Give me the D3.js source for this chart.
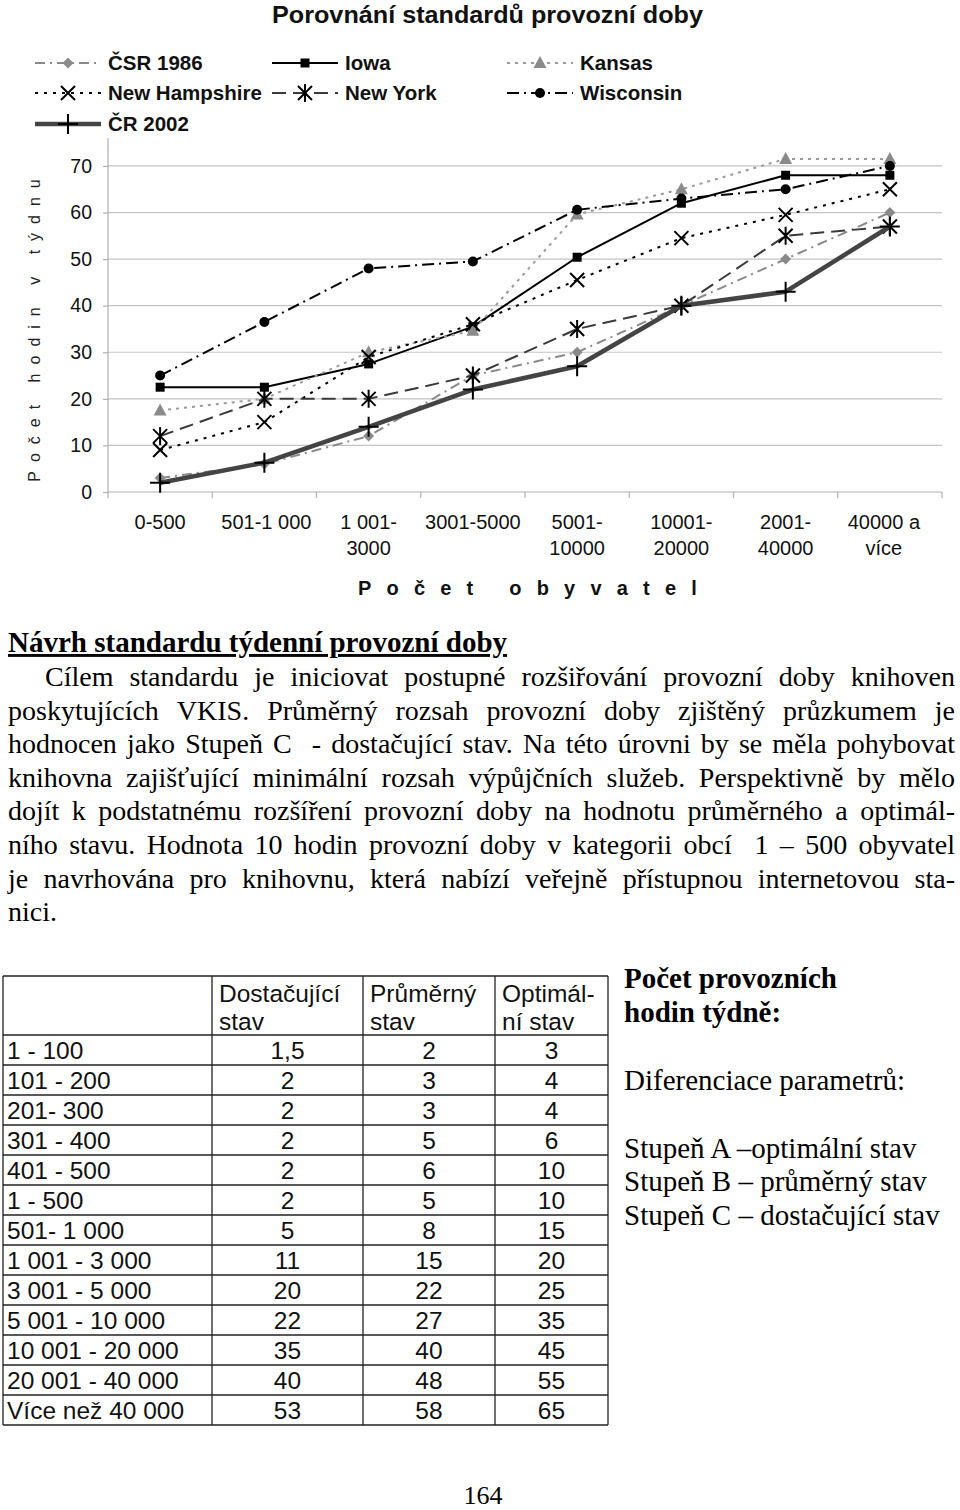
<!DOCTYPE html>
<html><head><meta charset="utf-8">
<script src="https://cdn.jsdelivr.net/npm/d3@7"></script>
<style>
html,body{margin:0;padding:0;background:#fff;}
svg{display:block;}
</style></head>
<body>
<script>
// ---------- DATA ----------
const categories = ["0-500","501-1 000","1 001-\n3000","3001-5000","5001-\n10000","10001-\n20000","2001-\n40000","40000 a\nvíce"];
const yTicks = [0,10,20,30,40,50,60,70];
const csr1986      = [3, 6, 12, 25, 30, 40, 50, 60];
const iowa         = [22.5, 22.5, 27.5, 35.5, 50.4, 62, 68, 68];
const kansas       = [17.5, 20, 30, 34.6, 59.6, 65, 71.5, 71.5];
const newHampshire = [9, 15, 29, 36, 45.5, 54.5, 59.5, 65];
const newYork      = [12, 20, 20, 25, 35, 40, 55, 57];
const wisconsin    = [25, 36.5, 48, 49.5, 60.6, 63, 65, 70];
const cr2002       = [2, 6.3, 14, 22, 27, 40, 43, 57];
const seriesNames  = ["ČSR 1986","Iowa","Kansas","New Hampshire","New York","Wisconsin","ČR 2002"];

const tableHeader = ["", "Dostačující\nstav", "Průměrný\nstav", "Optimál-\nní stav"];
const tableRows   = ["1 - 100","101 - 200","201- 300","301 - 400","401 - 500","1 - 500","501- 1 000","1 001 - 3 000","3 001 - 5 000","5 001 - 10 000","10 001 - 20 000","20 001 - 40 000","Více než 40 000"];
const dostacujici = ["1,5","2","2","2","2","2","5","11","20","22","35","40","53"];
const prumerny    = ["2","3","3","5","6","5","8","15","22","27","40","48","58"];
const optimalni   = ["3","4","4","6","10","10","15","20","25","35","45","55","65"];

const paraLines = [
 "Cílem standardu je iniciovat postupné rozšiřování provozní doby knihoven",
 "poskytujících VKIS. Průměrný rozsah provozní doby zjištěný průzkumem je",
 "hodnocen jako Stupeň C  - dostačující stav. Na této úrovni by se měla pohybovat",
 "knihovna zajišťující minimální rozsah výpůjčních služeb. Perspektivně by mělo",
 "dojít k podstatnému rozšíření provozní doby na hodnotu průměrného a optimál-",
 "ního stavu. Hodnota 10 hodin provozní doby v kategorii obcí  1 – 500 obyvatel",
 "je navrhována pro knihovnu, která nabízí veřejně přístupnou internetovou sta-",
 "nici."
];

// ---------- STYLES ----------
const styles = [
 {data:csr1986, color:"#8a8a8a", width:2, dash:"10,5,2,5", marker:"diamond", mcolor:"#8a8a8a"},
 {data:iowa, color:"#000", width:2, dash:null, marker:"square", mcolor:"#000"},
 {data:kansas, color:"#9a9a9a", width:2, dash:"3,5", marker:"triangle", mcolor:"#8a8a8a"},
 {data:newHampshire, color:"#000", width:2, dash:"3,6", marker:"x", mcolor:"#000"},
 {data:newYork, color:"#3a3a3a", width:2, dash:"14,7", marker:"asterisk", mcolor:"#000"},
 {data:wisconsin, color:"#000", width:2, dash:"12,5,2,5", marker:"circle", mcolor:"#000"},
 {data:cr2002, color:"#444", width:4.5, dash:null, marker:"plus", mcolor:"#000"}
];

const W = 960, H = 1510;
const svg = d3.select("body").append("svg").attr("width",W).attr("height",H);
svg.append("rect").attr("width",W).attr("height",H).attr("fill","#fff");

const sans = "'Liberation Sans', Arial, sans-serif";
const serif = "'Liberation Serif', 'Times New Roman', serif";

// ---------- CHART ----------
const plot = {left:108, right:942, top:138, bottom:492};
const x = d3.scaleBand().domain(d3.range(categories.length)).range([plot.left, plot.right]);
const y = d3.scaleLinear().domain([0,76]).range([plot.bottom, plot.top]);
const cx = i => x(i) + x.bandwidth()/2;

svg.append("text").attr("x",272).attr("y",23)
  .attr("font-family",sans).attr("font-weight","bold").attr("font-size",23).attr("fill","#111")
  .attr("textLength",431).attr("lengthAdjust","spacingAndGlyphs")
  .text("Porovnání standardů provozní doby");

// gridlines
const g = svg.append("g");
g.selectAll("line.grid").data(yTicks.filter(d=>d>0)).join("line")
  .attr("x1",plot.left).attr("x2",plot.right).attr("y1",d=>y(d)).attr("y2",d=>y(d))
  .attr("stroke","#c4c4c4").attr("stroke-width",1.2);

// y axis
const yAxis = d3.axisLeft(y).tickValues(yTicks).tickSize(5).tickPadding(11);
const yg = svg.append("g").attr("transform",`translate(${plot.left},0)`).call(yAxis);
yg.select(".domain").remove();
yg.append("line").attr("x1",0).attr("x2",0).attr("y1",plot.top).attr("y2",plot.bottom).attr("stroke","#b0b0b0").attr("stroke-width",1.2);
yg.selectAll(".tick line").attr("stroke","#b0b0b0").attr("stroke-width",1.2);
yg.selectAll(".tick text").attr("font-family",sans).attr("font-size",19.5).attr("fill","#111");

// x axis
const xg = svg.append("g").attr("transform",`translate(0,${plot.bottom})`);
xg.append("line").attr("x1",plot.left).attr("x2",plot.right).attr("stroke","#b0b0b0").attr("stroke-width",1.2);
xg.selectAll("line.t").data(d3.range(categories.length+1)).join("line")
  .attr("x1",i=>plot.left + i*x.bandwidth()).attr("x2",i=>plot.left + i*x.bandwidth())
  .attr("y1",0).attr("y2",6).attr("stroke","#b0b0b0").attr("stroke-width",1.2);
xg.selectAll("text.lab").data(categories).join("text")
  .attr("text-anchor","middle").attr("font-family",sans).attr("font-size",20).attr("fill","#111")
  .each(function(d,i){
    const t = d3.select(this);
    d.split("\n").forEach((ln,k)=>{
      t.append("tspan").attr("x",cx(i)+(i===7?-6:0)+(i===1?2:0)).attr("y",37+k*26).text(ln);
    });
  });

// axis titles
svg.append("text").attr("x",535).attr("y",595).attr("text-anchor","middle")
  .attr("font-family",sans).attr("font-weight","bold").attr("font-size",20).attr("letter-spacing","15.2")
  .attr("fill","#111").text("Počet  obyvatel");
svg.append("text").attr("transform","translate(40,326) rotate(-90)").attr("text-anchor","middle")
  .attr("font-family",sans).attr("font-size",16).attr("letter-spacing","9").attr("fill","#222")
  .text("Počet  hodin  v  týdnu");

// marker drawing
function drawMarker(sel, type, color){
  const s = sel;
  if(type==="diamond") s.append("path").attr("d","M0,-5.5L5.5,0L0,5.5L-5.5,0Z").attr("fill",color);
  else if(type==="square") s.append("rect").attr("x",-4.5).attr("y",-4.5).attr("width",9).attr("height",9).attr("fill",color);
  else if(type==="triangle") s.append("path").attr("d","M0,-7L6.5,5L-6.5,5Z").attr("fill",color);
  else if(type==="circle") s.append("circle").attr("r",5).attr("fill",color);
  else if(type==="x") s.append("path").attr("d","M-7,-7L7,7M-7,7L7,-7").attr("stroke",color).attr("stroke-width",2).attr("fill","none");
  else if(type==="asterisk") s.append("path").attr("d","M-7,-7L7,7M-7,7L7,-7M0,-9L0,9").attr("stroke",color).attr("stroke-width",2).attr("fill","none");
  else if(type==="plus") s.append("path").attr("d","M-10,0L10,0M0,-10L0,10").attr("stroke",color).attr("stroke-width",2).attr("fill","none");
}

const line = d3.line().x((d,i)=>cx(i)).y(d=>y(d));
styles.forEach(st=>{
  svg.append("path").datum(st.data).attr("d",line).attr("fill","none")
    .attr("stroke",st.color).attr("stroke-width",st.width).attr("stroke-dasharray",st.dash)
    .attr("stroke-linejoin","round");
  st.data.forEach((v,i)=>{
    drawMarker(svg.append("g").attr("transform",`translate(${cx(i)},${y(v)})`), st.marker, st.mcolor);
  });
});

// legend
const legPos = [[35,63],[272,63],[507,63],[35,93],[272,93],[507,93],[35,124]];
seriesNames.forEach((name,i)=>{
  const st = styles[i];
  const [lx,ly] = legPos[i];
  const lg = svg.append("g").attr("transform",`translate(${lx},${ly})`);
  lg.append("line").attr("x1",0).attr("x2",66).attr("y1",0).attr("y2",0)
    .attr("stroke",st.color).attr("stroke-width",st.width).attr("stroke-dasharray",st.dash);
  drawMarker(lg.append("g").attr("transform","translate(33,0)"), st.marker, st.mcolor);
  lg.append("text").attr("x",73).attr("y",7).attr("font-family",sans).attr("font-weight","bold")
    .attr("font-size",20.5).attr("fill","#111").text(name);
});

// ---------- PARAGRAPH ----------
svg.append("text").attr("x",8).attr("y",652).attr("font-family",serif).attr("font-weight","bold")
  .attr("font-size",29).attr("text-decoration","underline").attr("fill","#000")
  .text("Návrh standardu týdenní provozní doby");

const paraG = svg.append("g").attr("font-family",serif).attr("font-size",28).attr("fill","#000");
paraLines.forEach((ln,k)=>{
  const yy = 686 + k*33.6;
  const x0 = k===0 ? 45 : 8, x1 = 955;
  const words = ln.split(" ");
  const nodes = words.map(w=>paraG.append("text").attr("y",yy).text(w));
  const widths = nodes.map(n=>n.node().getComputedTextLength());
  const total = d3.sum(widths);
  let gap = k===paraLines.length-1 ? 7 : (x1-x0-total)/(words.length-1);
  let cur = x0;
  nodes.forEach((n,j)=>{ n.attr("x",cur); cur += widths[j] + gap; });
});

// ---------- TABLE ----------
const colX = [3, 212, 363, 495, 608];
const tTop = 976, headH = 59, rowH = 30;
const tg = svg.append("g");
const nRows = tableRows.length;
const tBottom = tTop + headH + nRows*rowH;
const hy = [tTop, ...d3.range(nRows+1).map(r=>tTop+headH+r*rowH)];
tg.selectAll("line.h").data(hy).join("line").attr("x1",colX[0]).attr("x2",colX[4])
  .attr("y1",d=>d).attr("y2",d=>d).attr("stroke","#222").attr("stroke-width",1.3);
tg.selectAll("line.v").data(colX).join("line").attr("x1",d=>d).attr("x2",d=>d)
  .attr("y1",tTop).attr("y2",tBottom).attr("stroke","#222").attr("stroke-width",1.3);
tableHeader.forEach((h,c)=>{
  if(!h) return;
  h.split("\n").forEach((ln,k)=>{
    tg.append("text").attr("x",colX[c]+7).attr("y",tTop+26+k*28).attr("font-family",sans)
      .attr("font-size",24.5).attr("fill","#111").text(ln);
  });
});
const cols = [dostacujici, prumerny, optimalni];
tableRows.forEach((r,i)=>{
  const yy = tTop+headH+i*rowH + 24;
  tg.append("text").attr("x",7).attr("y",yy).attr("font-family",sans).attr("font-size",24.5).attr("fill","#111").text(r);
  cols.forEach((col,c)=>{
    tg.append("text").attr("x",(colX[c+1]+colX[c+2])/2).attr("y",yy).attr("text-anchor","middle")
      .attr("font-family",sans).attr("font-size",24.5).attr("fill","#111").text(col[i]);
  });
});

// ---------- RIGHT NOTE ----------
const note = svg.append("g").attr("font-family",serif).attr("font-size",29).attr("fill","#000");
note.append("text").attr("x",624).attr("y",988).attr("font-weight","bold").text("Počet provozních");
note.append("text").attr("x",624).attr("y",1022).attr("font-weight","bold").text("hodin týdně:");
note.append("text").attr("x",624).attr("y",1090).text("Diferenciace parametrů:");
note.append("text").attr("x",624).attr("y",1158).text("Stupeň A –optimální stav");
note.append("text").attr("x",624).attr("y",1191).text("Stupeň B – průměrný stav");
note.append("text").attr("x",624).attr("y",1225).text("Stupeň C – dostačující stav");

svg.append("text").attr("x",483).attr("y",1504).attr("text-anchor","middle").attr("font-family",serif)
  .attr("font-size",26).attr("fill","#000").text("164");
</script>
</body></html>
